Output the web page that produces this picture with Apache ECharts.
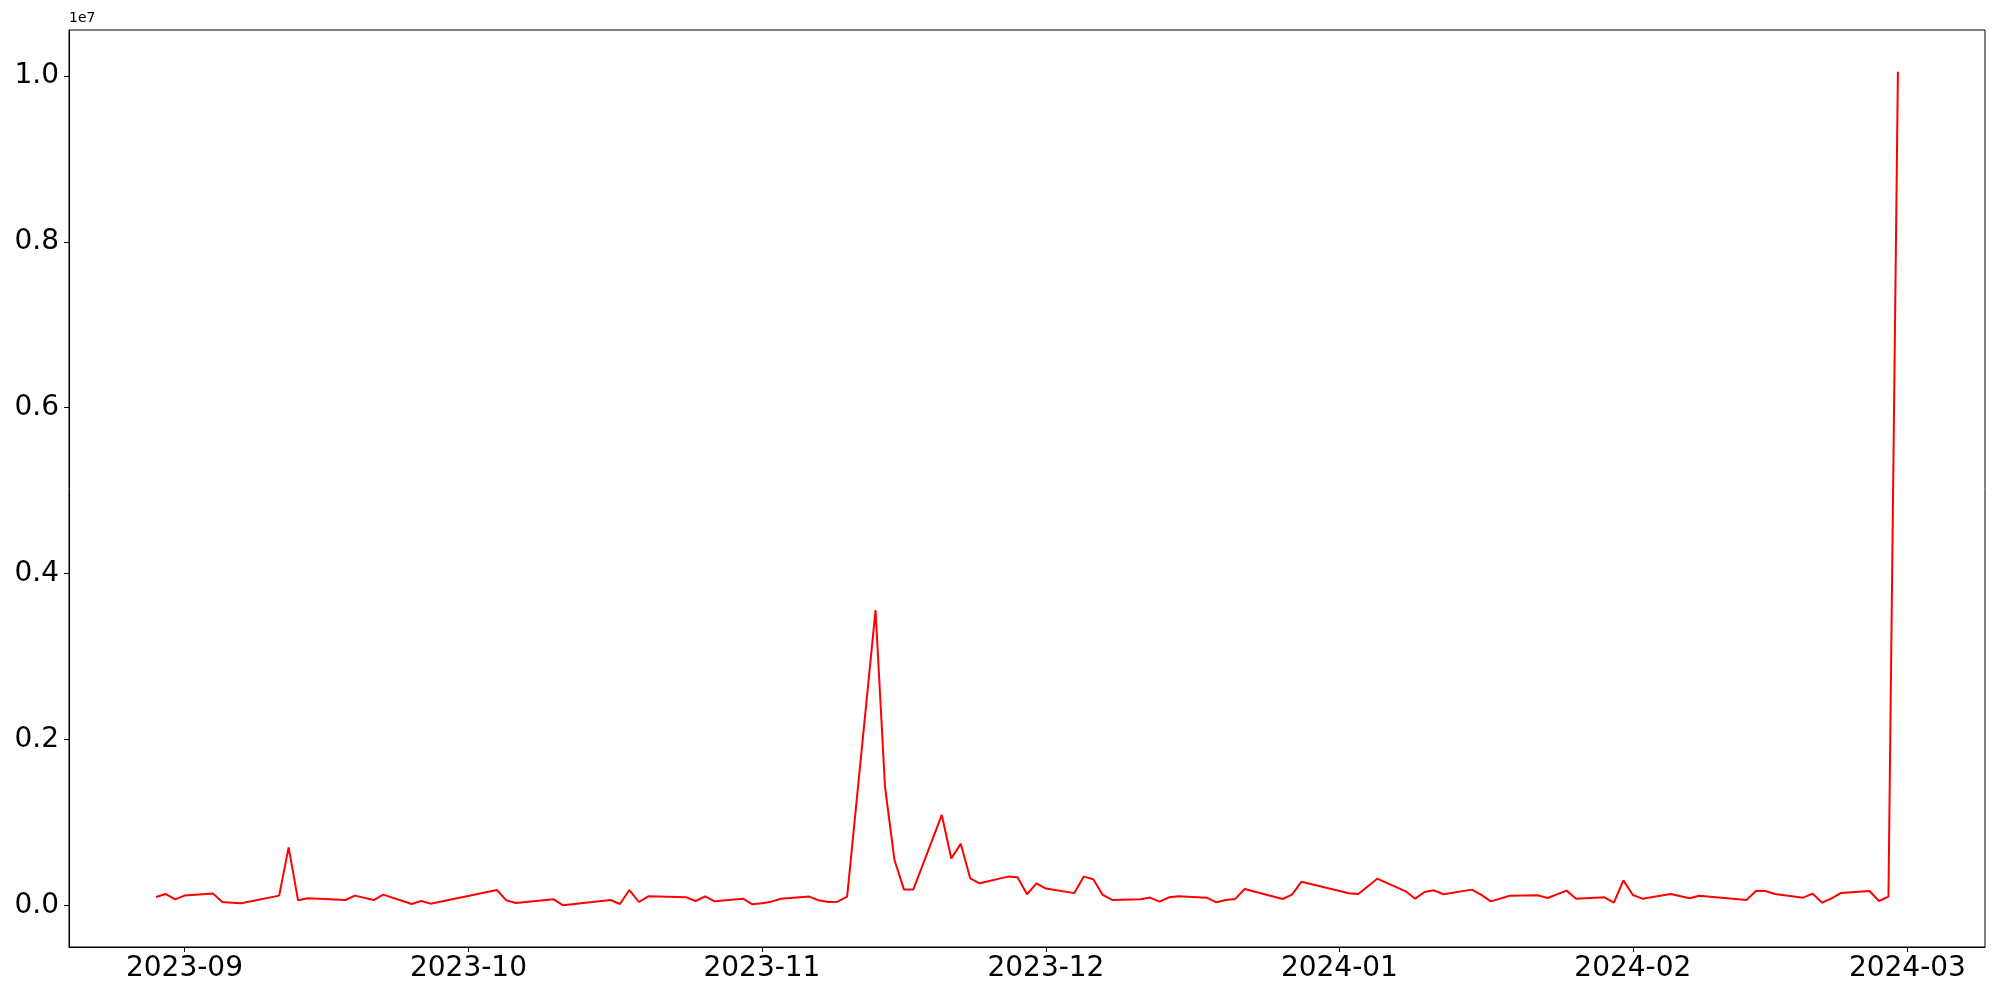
<!DOCTYPE html>
<html>
<head>
<meta charset="utf-8">
<script src="https://cdn.jsdelivr.net/npm/echarts@6/dist/echarts.min.js"></script>
<style>
html,body{margin:0;padding:0;background:#fff;}
#chart{width:2000px;height:1000px;}
</style>
</head>
<body>
<div id="chart"></div>
<script>
const dates = [
'2023-08-29','2023-08-30','2023-08-31','2023-09-01','2023-09-04','2023-09-05','2023-09-06','2023-09-07',
'2023-09-11','2023-09-12','2023-09-13','2023-09-14','2023-09-18','2023-09-19','2023-09-21','2023-09-22',
'2023-09-25','2023-09-26','2023-09-27','2023-10-04','2023-10-05','2023-10-06','2023-10-10','2023-10-11',
'2023-10-16','2023-10-17','2023-10-18','2023-10-19','2023-10-20','2023-10-24','2023-10-25','2023-10-26',
'2023-10-27','2023-10-30','2023-10-31','2023-11-01','2023-11-02','2023-11-03','2023-11-06','2023-11-07',
'2023-11-08','2023-11-09','2023-11-10','2023-11-13','2023-11-14','2023-11-15','2023-11-16','2023-11-17',
'2023-11-20','2023-11-21','2023-11-22','2023-11-23','2023-11-24','2023-11-27','2023-11-28','2023-11-29',
'2023-11-30','2023-12-01','2023-12-04','2023-12-05','2023-12-06','2023-12-07','2023-12-08','2023-12-11',
'2023-12-12','2023-12-13','2023-12-14','2023-12-15','2023-12-18','2023-12-19','2023-12-20','2023-12-21',
'2023-12-22','2023-12-26','2023-12-27','2023-12-28','2024-01-02','2024-01-03','2024-01-05','2024-01-08',
'2024-01-09','2024-01-10','2024-01-11','2024-01-12','2024-01-15','2024-01-16','2024-01-17','2024-01-19',
'2024-01-22','2024-01-23','2024-01-25','2024-01-26','2024-01-29','2024-01-30','2024-01-31','2024-02-01',
'2024-02-02','2024-02-05','2024-02-07','2024-02-08','2024-02-13','2024-02-14','2024-02-15','2024-02-16',
'2024-02-19','2024-02-20','2024-02-21','2024-02-22','2024-02-23','2024-02-26','2024-02-27','2024-02-28',
'2024-02-29'
];
const values = [
104000,140000,75000,120000,144000,43000,35000,27000,
120000,702000,63000,88000,67000,120000,67000,132000,
19000,55000,23000,187000,63000,31000,75000,3000,
67000,19000,187000,43000,111000,99000,55000,111000,
51000,83000,15000,27000,47000,83000,108000,63000,
43000,47000,108000,3560000,1432000,549000,195000,195000,
1093000,567000,744000,329000,268000,349000,341000,136000,
268000,205000,150000,349000,317000,128000,68000,76000,
96000,47000,99000,111000,95000,39000,67000,80000,
200000,79000,132000,288000,148000,140000,324000,172000,
83000,164000,184000,136000,192000,128000,51000,119000,
123000,91000,180000,83000,99000,35000,304000,128000,
83000,140000,88000,119000,67000,176000,176000,140000,
95000,143000,35000,88000,152000,176000,55000,108000,
10050000
];
const xTickLabels = ['2023-09','2023-10','2023-11','2023-12','2024-01','2024-02','2024-03'];
const yTickValues = [0, 2000000, 4000000, 6000000, 8000000, 10000000];
const yOffsetText = '1e7';

function toUTC(s){
  const p = s.split('-').map(Number);
  return Date.UTC(p[0], p[1]-1, p.length > 2 ? p[2] : 1);
}
const xs = dates.map(toUTC);
const seriesData = xs.map((t,i)=>[t, values[i]]);
const xMinD = Math.min(...xs), xMaxD = Math.max(...xs);
const xPad = 0.05*(xMaxD-xMinD);
const yMinD = Math.min(...values), yMaxD = Math.max(...values);
const yPad = 0.05*(yMaxD-yMinD);
const xTickValues = xTickLabels.map(toUTC);
const DAY = 86400000;

const font = 'DejaVu Sans';
const chart = echarts.init(document.getElementById('chart'), null, {renderer:'canvas'});
chart.setOption({
  animation: false,
  useUTC: true,
  backgroundColor: '#fff',
  textStyle: {fontFamily: font},
  grid: {left: 69, right: 15, top: 30, bottom: 53, show: true, borderColor: '#000', borderWidth: 1, backgroundColor: 'transparent'},
  xAxis: {
    type: 'time',
    min: xMinD - xPad,
    max: xMaxD + xPad,
    minInterval: 28*DAY,
    maxInterval: 31*DAY,
    axisLine: {show: true, onZero: false, lineStyle: {color: '#000', width: 1}},
    axisTick: {show: true, length: 5, lineStyle: {color: '#000', width: 1}},
    axisLabel: {
      showMinLabel: false, showMaxLabel: false,
      hideOverlap: false,
      fontFamily: font, fontSize: 28, color: '#000', margin: 8,
      formatter: function(v){
        const d = new Date(v);
        const lbl = d.getUTCFullYear() + '-' + String(d.getUTCMonth()+1).padStart(2,'0');
        return xTickValues.indexOf(v) >= 0 ? lbl : '';
      }
    },
    splitLine: {show: false}
  },
  yAxis: {
    type: 'value',
    min: yMinD - yPad,
    max: yMaxD + yPad,
    name: yOffsetText,
    nameLocation: 'end',
    nameGap: 5,
    nameTextStyle: {fontFamily: font, fontSize: 14, color: '#000', align: 'left', verticalAlign: 'bottom'},
    axisLine: {show: true, lineStyle: {color: '#000', width: 1}},
    axisTick: {show: true, length: 5, lineStyle: {color: '#000', width: 1}, customValues: yTickValues},
    axisLabel: {
      customValues: yTickValues,
      fontFamily: font, fontSize: 28, color: '#000', margin: 10,
      formatter: function(v){ return (v/1e7).toFixed(1); }
    },
    splitLine: {show: false}
  },
  series: [{
    type: 'line',
    data: seriesData,
    showSymbol: false,
    symbol: 'none',
    lineStyle: {color: '#ff0000', width: 2},
    itemStyle: {color: '#ff0000'}
  }]
});
</script>
</body>
</html>
